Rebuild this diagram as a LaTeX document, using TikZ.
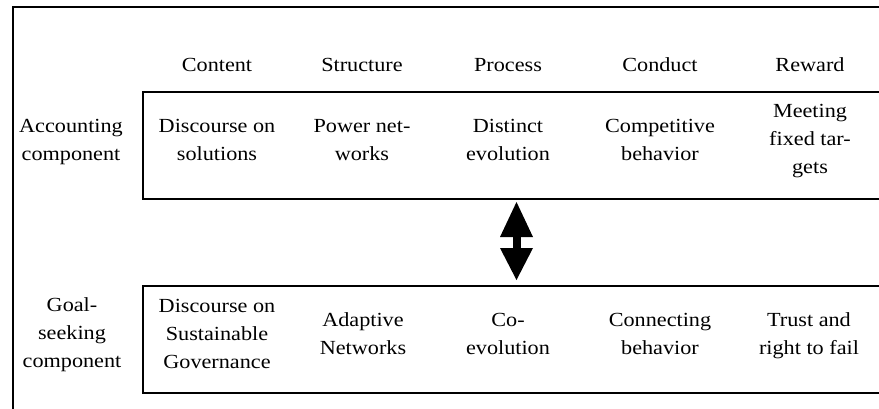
\documentclass[tikz,border=0pt]{standalone}
\usepackage{fontspec}
\setmainfont[FakeStretch=1.11]{Liberation Serif}
\usetikzlibrary{arrows.meta}
\begin{document}
\begin{tikzpicture}[x=1pt,y=-1pt,
  % multi-line cells: the base anchor sits on the last line's baseline
  cell/.style={font=\fontsize{20}{28}\selectfont, align=center, anchor=base, inner sep=0pt},
  frame/.style={line width=1.8pt},
  panel/.style={line width=2.7pt},
  link/.style={line width=8pt,
    {Triangle[width=33pt,length=35pt,line width=0pt]}-{Triangle[width=33pt,length=32pt,line width=0pt]}}]
\useasboundingbox (0,0) rectangle (879,408);
\clip (0,0) rectangle (879,408);

% outer frame and the two component panels
\draw[frame] (13,7) rectangle (900,430);
\draw[panel] (143,92) rectangle (900,199);
\draw[panel] (143,286) rectangle (900,393);

% column headings
\node[cell] (hcontent)   at (217,71) {Content};
\node[cell] (hstructure) at (362,71) {Structure};
\node[cell] (hprocess)   at (508,71) {Process};
\node[cell] (hconduct)   at (660,71) {Conduct};
\node[cell] (hreward)    at (810,71) {Reward};

% accounting component
\node[cell] (acc)       at (71,160)  {Accounting\\component};
\node[cell] (acontent)  at (217,160) {Discourse on\\solutions};
\node[cell] (astruct)   at (362,160) {Power net-\\works};
\node[cell] (aprocess)  at (508,160) {Distinct\\evolution};
\node[cell] (aconduct)  at (660,160) {Competitive\\behavior};
\node[cell] (areward)   at (810,173.5) {Meeting\\fixed tar-\\gets};

% goal-seeking component
\node[cell] (goal)     at (72,367)  {Goal-\\seeking\\component};
\node[cell] (gcontent) at (217,368) {Discourse on\\Sustainable\\Governance};
\node[cell] (gstruct)  at (363,354) {Adaptive\\Networks};
\node[cell] (gprocess) at (508,354) {Co-\\evolution};
\node[cell] (gconduct) at (660,354) {Connecting\\behavior};
\node[cell] (greward)  at (809,354) {Trust and\\right to fail};

% two-way arrow between the components
\coordinate (uptip)   at (516.5,202);
\coordinate (downtip) at (516.5,280);
\draw[link] (uptip) -- (downtip);
\end{tikzpicture}
\end{document}
